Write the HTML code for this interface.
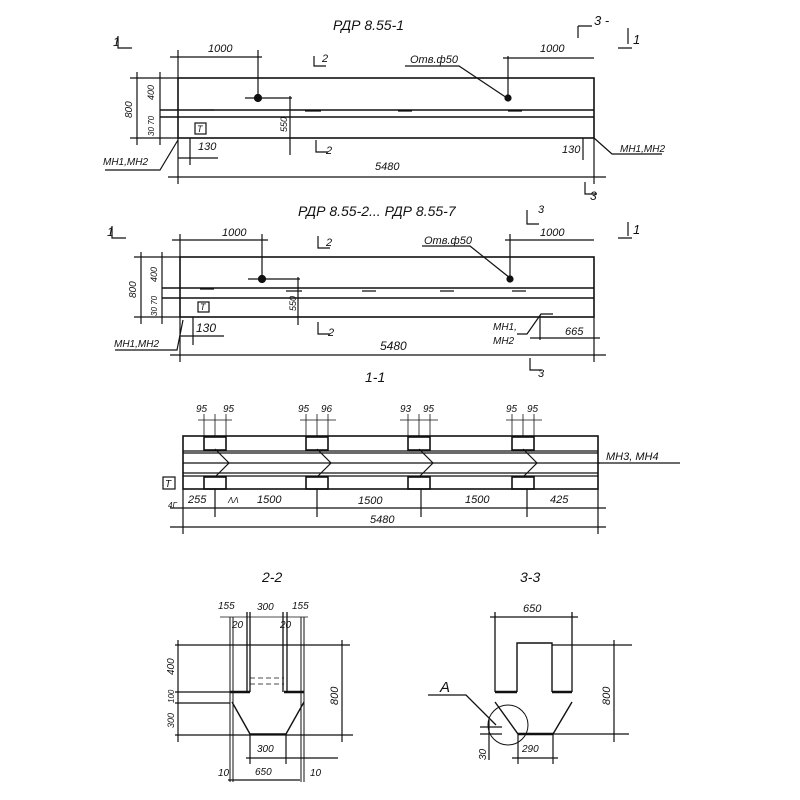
<!DOCTYPE html>
<html><head><meta charset="utf-8"><style>
body{margin:0;background:#fff}
svg{display:block}
text{font-family:"Liberation Sans","DejaVu Sans",sans-serif;font-style:italic;fill:#111}
</style></head><body>
<svg width="800" height="800" viewBox="0 0 800 800" xmlns="http://www.w3.org/2000/svg" stroke="#111" fill="none" stroke-width="1.2">
<!-- ===== Beam 1 ===== -->
<text x="333" y="30" font-size="14" stroke="none">РДР 8.55-1</text>
<path d="M118 36v12h14"/><text x="113" y="46" font-size="12" stroke="none">1</text>
<path d="M578 26v12M578 26h14"/><text x="594" y="25" font-size="13" stroke="none">3 -</text>
<path d="M628 28v16M618 48h14"/><text x="633" y="44" font-size="13" stroke="none">1</text>
<rect x="178" y="78" width="416" height="60" stroke-width="1.6"/>
<line x1="160" y1="110" x2="594" y2="110" stroke-width="1.4"/>
<line x1="160" y1="117" x2="594" y2="117" stroke-width="1.4"/>
<line x1="130" y1="78" x2="178" y2="78"/><line x1="130" y1="138" x2="178" y2="138"/>
<line x1="137" y1="72" x2="137" y2="145"/><line x1="160" y1="72" x2="160" y2="145"/>
<text x="132" y="118" font-size="10" stroke="none" transform="rotate(-90 132 118)">800</text>
<text x="154" y="100" font-size="9" stroke="none" transform="rotate(-90 154 100)">400</text>
<text x="154" y="136" font-size="8" stroke="none" transform="rotate(-90 154 136)">30 70</text>
<line x1="170" y1="57" x2="262" y2="57"/><line x1="178" y1="50" x2="178" y2="78"/>
<line x1="258" y1="50" x2="258" y2="98"/><text x="208" y="52" font-size="11" stroke="none">1000</text>
<circle cx="258" cy="98" r="3.5" fill="#111"/><line x1="245" y1="98" x2="292" y2="98"/>
<line x1="290" y1="96" x2="290" y2="155"/><text x="287" y="132" font-size="9" stroke="none" transform="rotate(-90 287 132)">550</text>
<path d="M314 56v10h12"/><text x="322" y="62" font-size="11" stroke="none">2</text>
<path d="M316 140v12h12"/><text x="326" y="154" font-size="11" stroke="none">2</text>
<text x="410" y="63" font-size="11" stroke="none">Отв.ф50</text>
<path d="M405 66h54l48 32"/><circle cx="508" cy="98" r="3" fill="#111"/>
<line x1="508" y1="56" x2="508" y2="98"/><line x1="503" y1="58" x2="594" y2="58"/>
<text x="540" y="52" font-size="11" stroke="none">1000</text>
<path d="M200 110h14M305 111h16M398 111h14M508 111h14"/>
<rect x="195" y="123" width="11" height="11"/><text x="197" y="132" font-size="9" font-style="normal" stroke="none">T</text>
<line x1="178" y1="158" x2="218" y2="158"/><line x1="190" y1="138" x2="190" y2="165"/>
<text x="198" y="150" font-size="11" stroke="none">130</text>
<path d="M105 170h55l18 -30"/><text x="103" y="165" font-size="10" stroke="none">МН1,МН2</text>
<path d="M594 138l18 16h50"/><text x="620" y="152" font-size="10" stroke="none">МН1,МН2</text>
<text x="562" y="153" font-size="11" stroke="none">130</text><line x1="583" y1="138" x2="583" y2="160"/>
<line x1="168" y1="177" x2="606" y2="177"/><line x1="178" y1="138" x2="178" y2="184"/><line x1="594" y1="138" x2="594" y2="184"/>
<text x="375" y="170" font-size="11" stroke="none">5480</text>
<path d="M585 182v12h12"/><text x="590" y="200" font-size="12" stroke="none">3</text>
<!-- ===== Beam 2 ===== -->
<text x="298" y="216" font-size="14" stroke="none">РДР 8.55-2... РДР 8.55-7</text>
<path d="M112 226v12h14"/><text x="107" y="236" font-size="12" stroke="none">1</text>
<path d="M527 210v14h12"/><text x="538" y="213" font-size="11" stroke="none">3</text>
<path d="M628 222v14M618 238h14"/><text x="633" y="234" font-size="13" stroke="none">1</text>
<rect x="180" y="257" width="414" height="60" stroke-width="1.6"/>
<line x1="162" y1="288" x2="594" y2="288" stroke-width="1.4"/>
<line x1="162" y1="298" x2="594" y2="298" stroke-width="1.4"/>
<line x1="134" y1="257" x2="180" y2="257"/><line x1="134" y1="317" x2="180" y2="317"/>
<line x1="141" y1="252" x2="141" y2="324"/><line x1="162" y1="252" x2="162" y2="324"/>
<text x="136" y="298" font-size="10" stroke="none" transform="rotate(-90 136 298)">800</text>
<text x="157" y="282" font-size="9" stroke="none" transform="rotate(-90 157 282)">400</text>
<text x="157" y="316" font-size="8" stroke="none" transform="rotate(-90 157 316)">30 70</text>
<line x1="172" y1="240" x2="268" y2="240"/><line x1="180" y1="234" x2="180" y2="257"/><line x1="262" y1="234" x2="262" y2="279"/>
<text x="222" y="236" font-size="11" stroke="none">1000</text>
<circle cx="262" cy="279" r="3.5" fill="#111"/><line x1="248" y1="279" x2="300" y2="279"/>
<line x1="298" y1="277" x2="298" y2="325"/><text x="296" y="311" font-size="9" stroke="none" transform="rotate(-90 296 311)">550</text>
<path d="M318 236v12h12"/><text x="326" y="246" font-size="11" stroke="none">2</text>
<path d="M318 322v12h12"/><text x="328" y="336" font-size="11" stroke="none">2</text>
<text x="424" y="244" font-size="11" stroke="none">Отв.ф50</text>
<path d="M422 246h48l40 32"/><circle cx="510" cy="279" r="3" fill="#111"/>
<line x1="510" y1="234" x2="510" y2="279"/><line x1="505" y1="240" x2="594" y2="240"/>
<text x="540" y="236" font-size="11" stroke="none">1000</text>
<path d="M200 289h14M286 291h16M362 291h14M440 291h14M512 291h14"/>
<rect x="198" y="302" width="11" height="10"/><text x="200" y="310" font-size="9" font-style="normal" stroke="none">T</text>
<line x1="180" y1="336" x2="224" y2="336"/><line x1="193" y1="317" x2="193" y2="345"/>
<text x="196" y="332" font-size="12" stroke="none">130</text>
<path d="M115 350h62l6 -30"/><text x="114" y="347" font-size="10" stroke="none">МН1,МН2</text>
<text x="493" y="330" font-size="10" stroke="none">МН1,</text><text x="493" y="344" font-size="10" stroke="none">МН2</text>
<path d="M517 334h10l14 -20h12"/><line x1="540" y1="315" x2="540" y2="340"/>
<line x1="530" y1="338" x2="600" y2="338"/><text x="565" y="335" font-size="11" stroke="none">665</text>
<line x1="170" y1="355" x2="606" y2="355"/><line x1="180" y1="317" x2="180" y2="362"/><line x1="594" y1="317" x2="594" y2="362"/>
<text x="380" y="350" font-size="12" stroke="none">5480</text>
<path d="M530 358v12h12"/><text x="538" y="377" font-size="11" stroke="none">3</text>
<!-- ===== Section 1-1 ===== -->
<text x="365" y="382" font-size="14" stroke="none">1-1</text>
<rect x="183" y="436" width="415" height="53" stroke-width="1.6"/>
<path d="M183 451h415M183 453h415M183 473h415M183 476h415" stroke-width="1.3"/>
<line x1="183" y1="463" x2="600" y2="463"/><line x1="598" y1="463" x2="680" y2="463"/>
<text x="606" y="460" font-size="11" stroke="none">МН3, МН4</text>
<g stroke-width="1.6">
<rect x="204" y="437" width="22" height="13"/><rect x="306" y="437" width="22" height="13"/><rect x="408" y="437" width="22" height="13"/><rect x="512" y="437" width="22" height="13"/>
<rect x="204" y="477" width="22" height="12"/><rect x="306" y="477" width="22" height="12"/><rect x="408" y="477" width="22" height="12"/><rect x="512" y="477" width="22" height="12"/>
</g>
<path d="M215 449l14 14-14 14M317 449l14 14-14 14M419 449l14 14-14 14M523 449l14 14-14 14"/>
<g font-size="10" stroke="none">
<text x="196" y="412">95</text><text x="223" y="412">95</text>
<text x="298" y="412">95</text><text x="321" y="412">96</text>
<text x="400" y="412">93</text><text x="423" y="412">95</text>
<text x="506" y="412">95</text><text x="527" y="412">95</text>
</g>
<path d="M198 420h34M300 420h36M400 420h38M506 420h36" stroke-width="0.8"/>
<path d="M204 414v22M215 414v22M226 414v22M306 414v22M317 414v22M328 414v22M408 414v22M419 414v22M430 414v22M512 414v22M523 414v22M534 414v22" stroke-width="0.8"/>
<rect x="163" y="477" width="12" height="12"/><text x="165" y="487" font-size="10" font-style="normal" stroke="none">T</text>
<line x1="170" y1="508" x2="606" y2="508"/><line x1="170" y1="527" x2="606" y2="527"/>
<line x1="183" y1="489" x2="183" y2="534"/><line x1="598" y1="489" x2="598" y2="534"/>
<path d="M215 489v28M317 489v28M421 489v28M527 489v28"/>
<g font-size="11" stroke="none">
<text x="188" y="503">255</text><text x="228" y="503" font-size="8">ΛΛ</text><text x="257" y="503">1500</text>
<text x="358" y="504">1500</text><text x="465" y="503">1500</text><text x="550" y="503">425</text>
<text x="370" y="523">5480</text>
</g>
<text x="168" y="508" font-size="8" stroke="none">4Г</text>
<!-- ===== Section 2-2 ===== -->
<text x="262" y="582" font-size="14" stroke="none">2-2</text>
<path d="M230 617v165M304 617v165M233 617v165M301 617v165" stroke-width="1"/>
<path d="M220 617h88" stroke-width="0.8"/>
<path d="M247 612v80M250 612v80M283 612v80M287 612v80" stroke-width="1.3"/>
<line x1="175" y1="645" x2="350" y2="645"/>
<path d="M230 692h20M284 692h20" stroke-width="2.5"/>
<path d="M175 692h55M175 703h55"/>
<path d="M232 702l18 32h36l18 -32" stroke-width="1.4"/>
<path d="M250 678h34M250 684h34" stroke-dasharray="5 3" stroke-width="0.8"/>
<line x1="175" y1="735" x2="353" y2="735"/>
<line x1="178" y1="640" x2="178" y2="742"/><line x1="342" y1="640" x2="342" y2="742"/>
<path d="M250 734v30M286 734v30M246 758h92M228 780h72"/>
<g font-size="10" stroke="none">
<text x="218" y="609">155</text><text x="257" y="610">300</text><text x="292" y="609">155</text>
<text x="232" y="628">20</text><text x="280" y="628">20</text>
<text x="257" y="752">300</text><text x="255" y="775">650</text>
<text x="218" y="776">10</text><text x="310" y="776">10</text>
</g>
<text x="174" y="675" font-size="10" stroke="none" transform="rotate(-90 174 675)">400</text>
<text x="174" y="703" font-size="8" stroke="none" transform="rotate(-90 174 703)">100</text>
<text x="174" y="728" font-size="9" stroke="none" transform="rotate(-90 174 728)">300</text>
<text x="338" y="705" font-size="11" stroke="none" transform="rotate(-90 338 705)">800</text>
<!-- ===== Section 3-3 ===== -->
<text x="520" y="582" font-size="14" stroke="none">3-3</text>
<line x1="490" y1="617" x2="578" y2="617"/>
<text x="523" y="612" font-size="11" stroke="none">650</text>
<path d="M495 612v80M572 612v80" stroke-width="1.3"/>
<path d="M517 692v-49h35v49" stroke-width="1.4"/>
<path d="M552 645h80M537 734h92"/><line x1="614" y1="640" x2="614" y2="742"/>
<text x="610" y="705" font-size="11" stroke="none" transform="rotate(-90 610 705)">800</text>
<path d="M495 692h22M552 692h20" stroke-width="2.5"/>
<path d="M495 702l23 32h35l19 -32" stroke-width="1.4"/>
<path d="M518 734h35" stroke-width="2.5"/>
<circle cx="508" cy="725" r="20" stroke-width="1"/>
<path d="M428 695h38l30 30" stroke-width="1.3"/>
<text x="440" y="692" font-size="15" stroke="none">А</text>
<path d="M480 727h22M480 734h22M489 720v40M518 734v30M553 734v30M512 758h46"/>
<text x="522" y="752" font-size="10" stroke="none">290</text>
<text x="486" y="760" font-size="10" stroke="none" transform="rotate(-90 486 760)">30</text>
</svg>
</body></html>
